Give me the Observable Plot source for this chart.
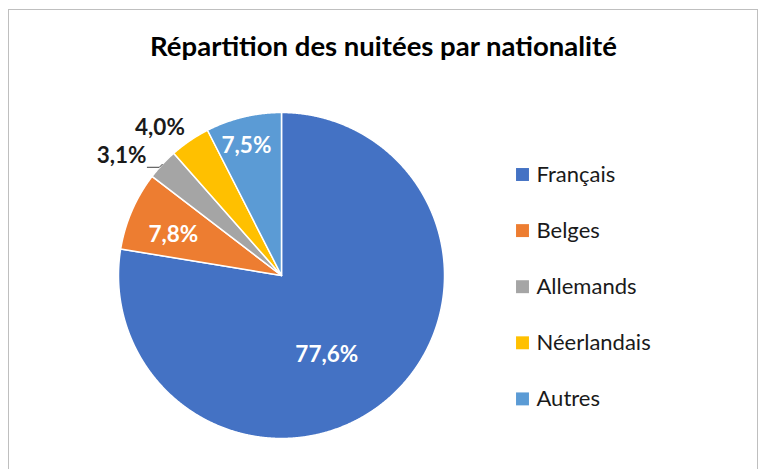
<!DOCTYPE html>
<html>
<head>
<meta charset="utf-8">
<script src="https://cdn.jsdelivr.net/npm/d3@7"></script>
<script src="https://cdn.jsdelivr.net/npm/@observablehq/plot@0.6"></script>
<style>
  body { margin: 0; background: #fff; }
  #wrap { position: relative; width: 764px; height: 469px; overflow: hidden; background: #fff; }
  #wrap svg { position: absolute; left: 0; top: 0; }
  #border { position: absolute; left: 8px; top: 9px; width: 750px; height: 480px;
            border: 1.5px solid #BFBFBF; box-sizing: border-box; pointer-events: none; z-index: 2; }
</style>
</head>
<body>
<div id="wrap"><div id="border"></div></div>
<script>
// ---- data ----
const title = "Répartition des nuitées par nationalité";
const categories = ["Français", "Belges", "Allemands", "Néerlandais", "Autres"];
const shares = [77.6, 7.8, 3.1, 4.0, 7.5];
const colors = ["#4472C4", "#ED7D31", "#A5A5A5", "#FFC000", "#5B9BD5"];

// ---- layout (not data) ----
const CX = 281, CY = 275, R = 163;
const FONT = "Lato, 'Open Sans', sans-serif";
// label placement: radius fraction and angular shift (deg) from slice mid-angle
const labelPlacement = {
  "Français":    {r: 0.56, shift: 10.6, inside: true},
  "Belges":      {r: 0.71, shift: -2.6, inside: true},
  "Allemands":   {r: 1.225, shift: -6.2, inside: false, leader: true},
  "Néerlandais": {r: 1.175, shift: -5.2, inside: false},
  "Autres":      {r: 0.826, shift: -1.6, inside: true}
};

const fmt = v => v.toFixed(1).replace(".", ",") + "%";
const arcs = d3.pie().sort(null).value(d => d)(shares);

// slice outlines (in unit-circle coordinates, angle clockwise from 12 o'clock)
const slicePts = [];
arcs.forEach((a, i) => {
  const cat = categories[i];
  slicePts.push({cat, x: 0, y: 0});
  const n = Math.max(2, Math.ceil((a.endAngle - a.startAngle) / (Math.PI / 720)));
  for (let k = 0; k <= n; k++) {
    const t = a.startAngle + (a.endAngle - a.startAngle) * k / n;
    slicePts.push({cat, x: Math.sin(t), y: Math.cos(t)});
  }
});

const labelData = arcs.map((a, i) => {
  const cat = categories[i];
  const p = labelPlacement[cat];
  const mid = (a.startAngle + a.endAngle) / 2 + p.shift * Math.PI / 180;
  const m0 = (a.startAngle + a.endAngle) / 2;
  return {cat, text: fmt(shares[i]), x: p.r * Math.sin(mid), y: p.r * Math.cos(mid),
          inside: p.inside, leader: p.leader, ex: Math.sin(m0), ey: Math.cos(m0)};
});

const leaderPts = [];
labelData.filter(d => d.leader).forEach(d => {
  leaderPts.push({x: d.ex, y: d.ey});
  leaderPts.push({x: d.ex - 3 / R, y: d.ey - 3 / R});
  leaderPts.push({x: d.ex - 15 / R, y: d.ey - 3 / R});
});

const legend = categories.map((c, i) => ({cat: c, i}));
const LEG_SQ_X = (522 - CX) / R, LEG_TX = (536 - CX) / R;
const LEG_Y0 = (CY - 174) / R, LEG_STEP = 56.1 / R;

const chart = Plot.plot({
  width: 764,
  height: 469,
  margin: 0,
  style: {fontFamily: FONT, background: "transparent"},
  x: {domain: [-1, 1], range: [CX - R, CX + R], axis: null},
  y: {domain: [-1, 1], range: [CY + R, CY - R], axis: null},
  color: {domain: categories, range: colors},
  marks: [
    Plot.line(slicePts, {x: "x", y: "y", z: "cat", fill: "cat", stroke: "white",
                         strokeWidth: 1.5, curve: "linear-closed"}),
    Plot.line(leaderPts, {x: "x", y: "y", stroke: "#404040", strokeWidth: 1}),
    Plot.text(labelData.filter(d => d.inside), {x: "x", y: "y", text: "text", fill: "white",
                         fontSize: 22.5, fontWeight: "bold"}),
    Plot.text(labelData.filter(d => !d.inside), {x: "x", y: "y", text: "text", fill: "#1a1a1a",
                         fontSize: 22.5, fontWeight: "bold"}),
    Plot.dot(legend, {x: () => LEG_SQ_X, y: d => LEG_Y0 - d.i * LEG_STEP, fill: "cat",
                      symbol: "square", r: 7.3}),
    Plot.text(legend, {x: () => LEG_TX, y: d => LEG_Y0 - d.i * LEG_STEP, text: "cat",
                       textAnchor: "start", fontSize: 22, fill: "#1a1a1a"}),
    Plot.text([title], {frameAnchor: "top", dy: 47, dx: 1, text: d => d, fontSize: 27.5,
                        fontWeight: "bold", fill: "#000", lineAnchor: "middle"})
  ]
});
document.getElementById("wrap").appendChild(chart);
</script>
</body>
</html>
